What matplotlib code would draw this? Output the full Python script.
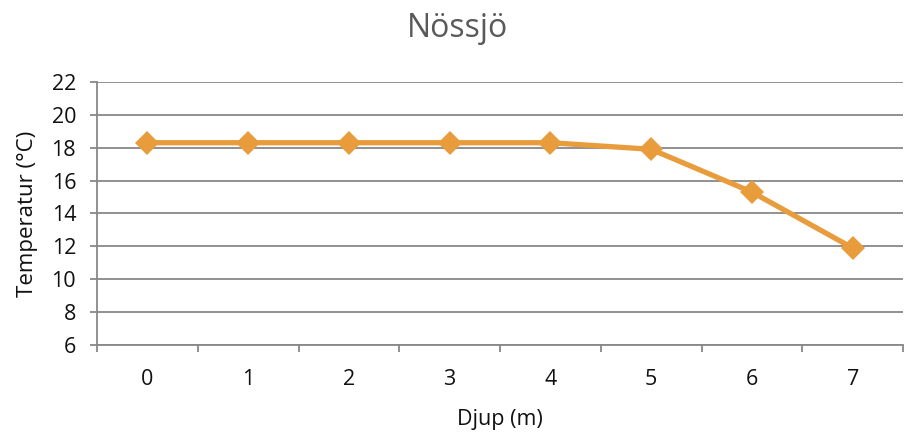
import matplotlib
matplotlib.use("Agg")
import matplotlib.pyplot as plt

# Data
depth = [0, 1, 2, 3, 4, 5, 6, 7]
temperature = [18.3, 18.3, 18.3, 18.3, 18.3, 17.9, 15.3, 11.9]
y_ticks = [6, 8, 10, 12, 14, 16, 18, 20, 22]

plt.rcParams["font.family"] = ["Open Sans", "DejaVu Sans"]

fig = plt.figure(figsize=(9.15, 4.33), dpi=100)
ax = fig.add_axes([0.106, 0.203, 0.881, 0.608])

line_color = "#E99C3C"
ax.plot(range(len(depth)), temperature, color=line_color, linewidth=3.8,
        marker="D", markersize=12, markeredgewidth=0, zorder=3)

ax.set_xlim(-0.5, len(depth) - 0.5)
ax.set_ylim(6, 22)
ax.set_yticks(y_ticks)
ax.set_xticks(range(len(depth)))
ax.set_xticklabels([str(d) for d in depth])
ax.set_xticks([i - 0.5 for i in range(len(depth) + 1)], minor=True)

ax.grid(axis="y", color="#888888", linewidth=1.3)
ax.set_axisbelow(True)

for side in ["top", "right"]:
    ax.spines[side].set_visible(False)
for side in ["left", "bottom"]:
    ax.spines[side].set_color("#888888")
    ax.spines[side].set_linewidth(1.3)

ax.tick_params(axis="y", length=5, color="#888888", width=1.3, labelsize=15.5,
               pad=10, labelcolor="#111111")
ax.tick_params(axis="x", which="major", length=0, labelsize=15.5, pad=17,
               labelcolor="#111111")
ax.tick_params(axis="x", which="minor", length=5, color="#888888", width=1.3)

ax.set_xlabel("Djup (m)", fontsize=15.5, labelpad=14, color="#111111")
ax.set_ylabel("Temperatur (°C)", fontsize=16, labelpad=10, color="#111111")
fig.text(0.5, 1 - 37 / 433, "Nössjö", fontsize=23, color="#595959",
         ha="center", va="baseline")

fig.savefig("out.png", dpi=100)
